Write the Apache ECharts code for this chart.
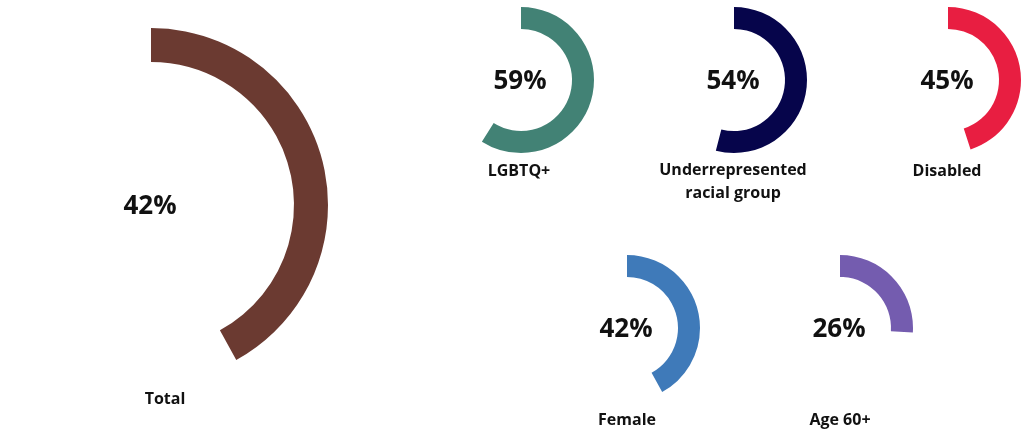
<!DOCTYPE html>
<html>
<head>
<meta charset="utf-8">
<script src="https://cdn.jsdelivr.net/npm/echarts@6/dist/echarts.min.js"></script>
<style>
html,body{margin:0;padding:0;background:#fff;}
#chart{width:1024px;height:430px;}
</style>
</head>
<body>
<div id="chart"></div>
<script>
// Data
var categories = ["Total", "LGBTQ+", "Underrepresented\nracial group", "Disabled", "Female", "Age 60+"];
var values = [42, 59, 54, 45, 42, 26];
var colors = ["#6B3A31", "#428275", "#06054B", "#E81E41", "#3F7AB9", "#745CAF"];

// Layout (positions / sizes)
var centers = [[151, 205], [521, 80], [734, 80], [948, 80], [627, 328], [840, 328]];
var radii = [[143, 177], [51, 73], [51, 73], [51, 73], [51, 73], [51, 73]];
var namePos = [[165, 399], [519, 171], [733, 182], [947, 171], [627, 420], [840, 420]];
var FONT = '"Open Sans", "Noto Sans", sans-serif';

var chart = echarts.init(document.getElementById('chart'), null, {renderer: 'canvas'});
var series = categories.map(function (name, i) {
  return {
    type: 'pie',
    center: centers[i],
    radius: radii[i],
    startAngle: 90,
    clockwise: true,
    silent: true,
    animation: false,
    labelLine: {show: false},
    data: [
      {
        value: values[i], name: name,
        itemStyle: {color: colors[i]},
        label: {
          show: true, position: 'center',
          formatter: values[i] + '%',
          fontFamily: FONT, fontWeight: 'bold', fontSize: 26, color: '#111',
          offset: [-1, 2]
        }
      },
      {
        value: 100 - values[i], name: '',
        itemStyle: {color: 'rgba(0,0,0,0)'},
        label: {show: false}
      }
    ]
  };
});

var graphics = categories.map(function (name, i) {
  return {
    type: 'text',
    x: namePos[i][0], y: namePos[i][1],
    silent: true,
    style: {
      text: name,
      textAlign: 'center', textVerticalAlign: 'middle',
      font: 'bold 16px ' + FONT,
      lineHeight: 23,
      fill: '#111'
    }
  };
});

chart.setOption({
  backgroundColor: '#fff',
  animation: false,
  series: series,
  graphic: graphics
});
</script>
</body>
</html>
